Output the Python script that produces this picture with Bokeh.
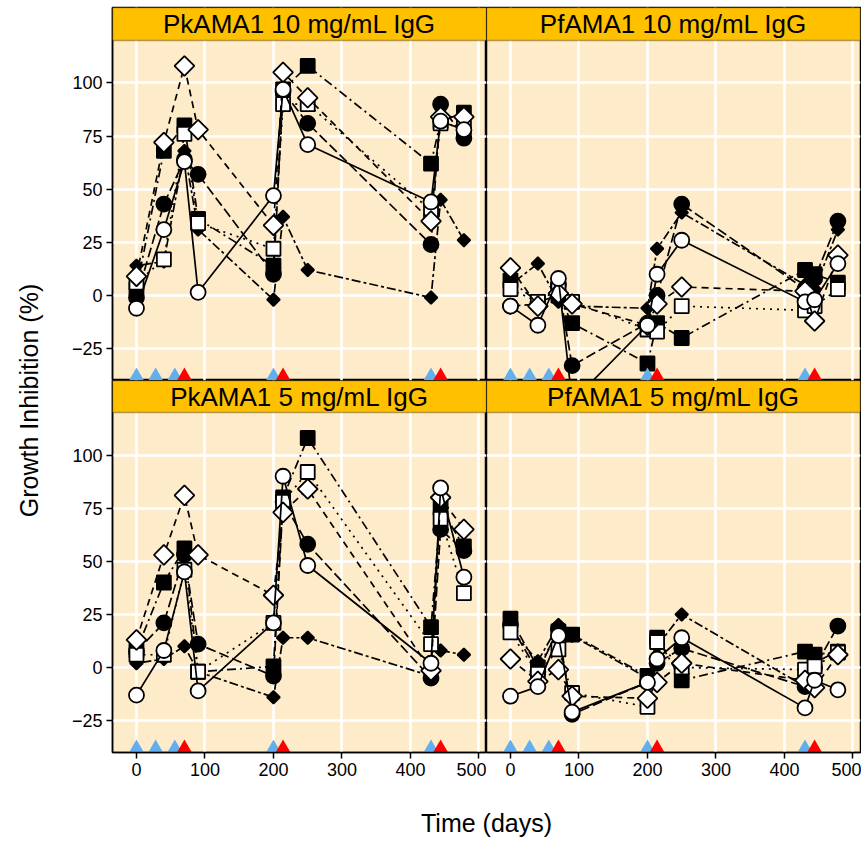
import math
from bokeh.plotting import figure
from bokeh.layouts import row, column
from bokeh.models import Range1d, FixedTicker, Grid, BoxAnnotation, Label, ColumnDataSource
from bokeh.core.properties import value
from bokeh.embed import file_html
from bokeh.resources import INLINE

# ---------------- data ----------------
days = [0, 40, 70, 90, 200, 214, 250, 430, 444, 478]
boost_blue = [0, 28, 56, 200, 430]
boost_red = [70, 214, 444]
x_ticks = [0, 100, 200, 300, 400, 500]
y_ticks = [-25, 0, 25, 50, 75, 100]
panel_titles = ["PkAMA1 10 mg/mL IgG", "PfAMA1 10 mg/mL IgG",
                "PkAMA1 5 mg/mL IgG", "PfAMA1 5 mg/mL IgG"]

# PkAMA1 10 mg/mL
pk10_open_circle = [-6, 31, 63, 1.5, 47, 97, 71, 44, 82, 78]
pk10_filled_circle = [-1, 43, 64, 57, 10, 96, 81, 24, 90, 74]
pk10_filled_square = [3, 68, 80, 36, 14, 97, 108, 62, 82, 86]
pk10_open_square = [6, 17, 76, 34, 22, 90, 90, 40, 81, 79]
pk10_open_diamond = [9, 72, 108, 78, 33, 105, 93, 35, 84, 84]
pk10_filled_diamond = [14, 16, 68, 31, -2, 37, 12, -1, 45, 26]

# PfAMA1 10 mg/mL
pf10_open_circle = [-5, -14, 8, -50, -14, 10, 26, -3, -2, 15]
pf10_filled_circle = [-5, -4, 5, -33, -13, 0, 43, 3, 8, 35]
pf10_filled_square = [7, -3, 0, -13, -32, -13, -20, 12, 10, 6]
pf10_open_square = [3, -3, 3, -3, -16, -17, -5, -7, -5, 3]
pf10_open_diamond = [13, -5, 1, -4, -14, -4, 4, 2, -12, 19]
pf10_filled_diamond = [5, 15, -3, -5, -6, 22, 39, 5, 3, 31]

# PkAMA1 5 mg/mL
pk5_open_circle = [-13, 8, 45, -11, 21, 90, 48, 2, 84.5, 42.5]
pk5_filled_circle = [7.5, 21, 53, 11, -4, 78, 58, -5, 65, 55]
pk5_filled_square = [8, 40, 56, -2, 0.5, 80, 108, 19, 75, 57]
pk5_open_square = [6, 6, 46, -2, 21, 78, 92, 11, 70, 35]
pk5_open_diamond = [13, 53, 81, 53, 34, 73, 84, -1.5, 80, 65]
pk5_filled_diamond = [2, 4, 10, -2, -14, 14, 14, -4, 8, 6]

# PfAMA1 5 mg/mL
pf5_open_circle = [-13.5, -9, 15, -21, -7, 4, 14, -19, -6, -10.5]
pf5_filled_circle = [20, -2, 18, -22, -7, 2, 9, -9, 0, 19.5]
pf5_filled_square = [23, 0, 17, 15.5, -4, 14, -6, 7.5, 6, 7.5]
pf5_open_square = [16.5, -3, 8.5, -12, -18.5, 12, 0, -1, 0.5, 7]
pf5_open_diamond = [4, -6.5, -1, -13.5, -14.5, -7, 2, -6, -9.5, 6]
pf5_filled_diamond = [18, 3, 20, 15, -5, 10, 25, -9, 2, 8]

# ---------------- styles ----------------
BG = "#FDEBC9"
STRIP = "#FFC000"
BLUE = "#62AEEE"
RED = "#FF0000"
FONT = "Liberation Sans"

# key: (marker, size, angle, fill, dash)
STYLES = {
    "filled_diamond": ("square", 9, math.pi / 4, "black", "3 3 9 3"),
    "filled_square": ("square", 14, 0, "black", "9 4 2 4"),
    "filled_circle": ("circle", 15, 0, "black", "10 4"),
    "open_square": ("square", 14, 0, "white", "2 5"),
    "open_diamond": ("square", 14, math.pi / 4, "white", "7 5"),
    "open_circle": ("circle", 15, 0, "white", "solid"),
}

FRAME_W = 374


def make_panel(title, series, left, bottom):
    fh = 372 if bottom else 373
    ytop = 135.06 if bottom else 135.5
    p = figure(frame_width=FRAME_W, frame_height=fh,
               x_range=Range1d(-35, 511), y_range=Range1d(-40, ytop),
               output_backend="svg", toolbar_location=None,
               x_axis_location="below" if bottom else None,
               y_axis_location="left" if left else None,
               min_border_left=50 if left else 0,
               min_border_right=0 if left else 1,
               min_border_top=0 if bottom else 7,
               min_border_bottom=30 if bottom else 0,
               background_fill_color=BG, border_fill_color="white",
               outline_line_color="black", outline_line_width=1.5)
    p.grid.visible = False
    p.add_layout(Grid(dimension=0, ticker=FixedTicker(ticks=x_ticks),
                      grid_line_color="white", grid_line_width=2.5))
    p.add_layout(Grid(dimension=1, ticker=FixedTicker(ticks=y_ticks),
                      grid_line_color="white", grid_line_width=2.5))
    axes = []
    if left:
        p.yaxis.ticker = FixedTicker(ticks=y_ticks)
        axes.append(p.yaxis)
    if bottom:
        p.xaxis.ticker = FixedTicker(ticks=x_ticks)
        axes.append(p.xaxis)
    for ax in axes:
        ax.major_tick_in = 0
        ax.major_tick_out = 6
        ax.minor_tick_in = 0
        ax.minor_tick_out = 0
        ax.major_tick_line_width = 1.5
        ax.axis_line_width = 1.5
        ax.major_label_text_font = FONT
        ax.major_label_text_font_size = "18px"
        ax.major_label_text_color = "black"
        ax.major_label_standoff = 4

    for key in ["filled_diamond", "filled_square", "filled_circle",
                "open_square", "open_diamond", "open_circle"]:
        marker, size, angle, fill, dash = STYLES[key]
        src = ColumnDataSource(dict(x=days, y=series[key]))
        p.line("x", "y", source=src, line_color="black", line_width=1.7,
               line_dash=dash)
        p.scatter("x", "y", source=src, marker=marker, size=size, angle=angle,
                  fill_color=fill, line_color="black", line_width=1.8)

    p.scatter(x=boost_blue, y=[-37.96] * len(boost_blue), marker="triangle",
              size=15, fill_color=BLUE, line_color=None)
    p.scatter(x=boost_red, y=[-37.96] * len(boost_red), marker="triangle",
              size=15, fill_color=RED, line_color=None)

    p.add_layout(BoxAnnotation(bottom=120, fill_color=STRIP, fill_alpha=1,
                               line_color="black", line_width=1.5))
    p.add_layout(Label(x=238, y=(120 + ytop) / 2, text=title, text_align="center",
                       text_baseline="middle", text_font=FONT,
                       text_font_size="26px", text_color="black"))
    return p


def pack(oc, fc, fs, os_, od, fd):
    return {"open_circle": oc, "filled_circle": fc, "filled_square": fs,
            "open_square": os_, "open_diamond": od, "filled_diamond": fd}


p1 = make_panel(panel_titles[0], pack(pk10_open_circle, pk10_filled_circle, pk10_filled_square,
                                      pk10_open_square, pk10_open_diamond, pk10_filled_diamond), True, False)
p2 = make_panel(panel_titles[1], pack(pf10_open_circle, pf10_filled_circle, pf10_filled_square,
                                      pf10_open_square, pf10_open_diamond, pf10_filled_diamond), False, False)
p3 = make_panel(panel_titles[2], pack(pk5_open_circle, pk5_filled_circle, pk5_filled_square,
                                      pk5_open_square, pk5_open_diamond, pk5_filled_diamond), True, True)
p4 = make_panel(panel_titles[3], pack(pf5_open_circle, pf5_filled_circle, pf5_filled_square,
                                      pf5_open_square, pf5_open_diamond, pf5_filled_diamond), False, True)

# y-axis label figure
YW, YH = 62, 782
ylab = figure(width=YW, height=YH, x_range=Range1d(0, YW), y_range=Range1d(0, YH),
              output_backend="svg", toolbar_location=None, min_border=0,
              x_axis_location=None, y_axis_location=None, outline_line_color=None,
              border_fill_color="white", background_fill_color="white")
ylab.grid.visible = False
ylab.text(x=[28], y=[YH - 400], text=["Growth Inhibition (%)"], angle=math.pi / 2,
          text_align="center", text_baseline="middle", text_font=value(FONT),
          text_font_size="25px", text_color="black")

# x-axis label figure
XW, XH = 861, 58
xlab = figure(width=XW, height=XH, x_range=Range1d(0, XW), y_range=Range1d(0, XH),
              output_backend="svg", toolbar_location=None, min_border=0,
              x_axis_location=None, y_axis_location=None, outline_line_color=None,
              border_fill_color="white", background_fill_color="white")
xlab.grid.visible = False
xlab.text(x=[486], y=[XH / 2 - 11], text=["Time (days)"], text_align="center",
          text_baseline="middle", text_font=value(FONT),
          text_font_size="25px", text_color="black")

grid = column(row(p1, p2), row(p3, p4))
layout = column(row(ylab, grid), xlab)

open("out.html", "w").write(file_html(layout, INLINE))
